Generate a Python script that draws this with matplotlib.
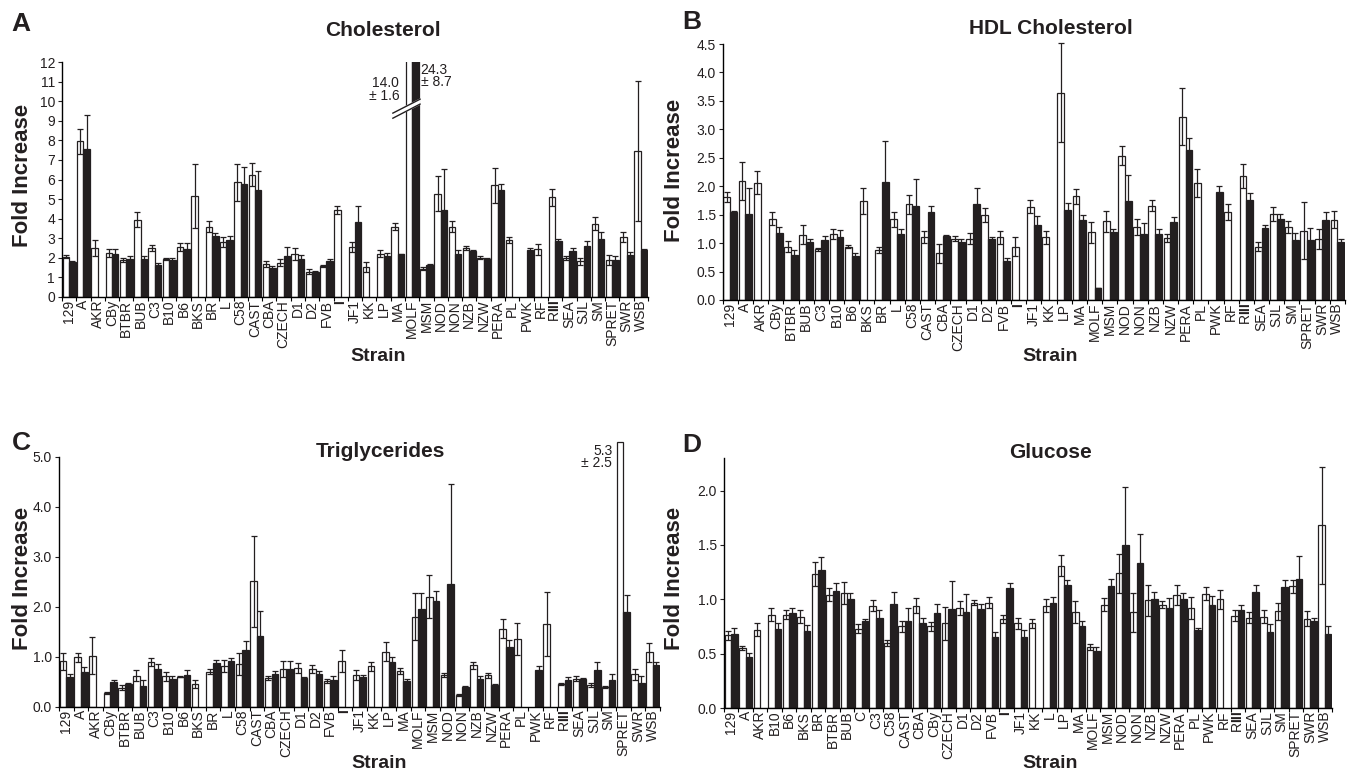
"""Fold increase of plasma lipids / glucose per mouse strain (4 panels)."""
import numpy as np
import matplotlib
matplotlib.use("Agg")
import matplotlib.pyplot as plt

plt.rcParams["font.family"] = ["Liberation Sans", "DejaVu Sans"]
plt.rcParams["mathtext.fontset"] = "custom"
plt.rcParams["mathtext.rm"] = "Liberation Sans"
plt.rcParams["mathtext.bf"] = "Liberation Sans:bold"

nan = np.nan

# strain order for panels A-C
strains_abc = ["129", "A", "AKR", "CBy", "BTBR", "BUB", "C3", "B10", "B6", "BKS",
               "BR", "L", "C58", "CAST", "CBA", "CZECH", "D1", "D2", "FVB", "I",
               "JF1", "KK", "LP", "MA", "MOLF", "MSM", "NOD", "NON", "NZB", "NZW",
               "PERA", "PL", "PWK", "RF", "RIII", "SEA", "SJL", "SM", "SPRET", "SWR",
               "WSB"]
# panel D has its own order (alphabetical, with C)
strains_d = ["129", "A", "AKR", "B10", "B6", "BKS", "BR", "BTBR", "BUB", "C",
             "C3", "C58", "CAST", "CBA", "CBy", "CZECH", "D1", "D2", "FVB", "I",
             "JF1", "KK", "L", "LP", "MA", "MOLF", "MSM", "NOD", "NON", "NZB",
             "NZW", "PERA", "PL", "PWK", "RF", "RIII", "SEA", "SJL", "SM", "SPRET",
             "SWR", "WSB"]

# A: cholesterol (open = white bars, solid = black bars)
chol_open = [2.05, 7.95, 2.5, 2.25, 1.9, 3.95, 2.5, 1.95, 2.55, 5.15,
             3.6, 2.8, 5.85, 6.25, 1.7, 1.75, 2.2, 1.3, 1.6, 4.45,
             2.55, 1.53, 2.21, 3.6, 14.0, 1.45, 5.28, 3.6, 2.52, 2.0,
             5.7, 2.9, nan, 2.43, 5.1, 2.0, 1.82, 3.74, 1.9, 3.06, 7.46]
chol_open_se = [0.08, 0.65, 0.42, 0.2, 0.1, 0.4, 0.13, 0.05, 0.22, 1.65,
                0.3, 0.25, 0.95, 0.6, 0.15, 0.17, 0.3, 0.13, 0.05, 0.2,
                0.25, 0.26, 0.17, 0.2, 1.6, 0.08, 0.9, 0.28, 0.1, 0.08,
                0.9, 0.16, nan, 0.29, 0.43, 0.1, 0.17, 0.34, 0.26, 0.26, 3.57]
chol_solid = [1.78, 7.54, nan, 2.2, 1.95, 1.95, 1.62, 1.9, 2.45, nan,
              3.1, 2.9, 5.75, 5.45, 1.5, 2.1, 1.95, 1.3, 1.85, nan,
              3.83, nan, 2.08, 2.18, 24.3, 1.65, 4.46, 2.18, 2.35, 1.92,
              5.45, nan, 2.42, nan, 2.86, 2.35, 2.59, 2.98, 1.9, 2.13, 2.42]
chol_solid_se = [0.05, 1.74, nan, 0.25, 0.15, 0.15, 0.1, 0.1, 0.3, nan,
                 0.15, 0.2, 0.9, 1.0, 0.1, 0.45, 0.2, 0.05, 0.1, nan,
                 0.82, nan, 0.17, 0.03, 8.7, 0.03, 2.06, 0.2, 0.05, 0.05,
                 0.34, nan, 0.08, nan, 0.08, 0.15, 0.25, 0.34, 0.19, 0.17, 0.03]

# B: HDL cholesterol
hdl_open = [1.81, 2.09, 2.06, 1.43, 0.94, 1.15, 0.89, 1.16, 0.94, 1.74,
            0.88, 1.42, 1.68, 1.11, 0.82, 1.08, 1.08, 1.49, 1.1, 0.94,
            1.64, 1.1, 3.64, 1.82, 1.19, 1.38, 2.54, 1.28, 1.66, 1.09,
            3.22, 2.06, nan, 1.55, 2.18, 0.94, 1.51, 1.28, 1.22, 1.07, 1.41]
hdl_open_se = [0.09, 0.33, 0.2, 0.12, 0.1, 0.16, 0.02, 0.09, 0.03, 0.22,
               0.06, 0.13, 0.17, 0.11, 0.17, 0.05, 0.1, 0.12, 0.11, 0.16,
               0.11, 0.12, 0.87, 0.13, 0.18, 0.18, 0.17, 0.14, 0.09, 0.07,
               0.5, 0.25, nan, 0.14, 0.21, 0.08, 0.12, 0.1, 0.5, 0.17, 0.15]
hdl_solid = [1.54, 1.52, nan, 1.18, 0.79, 1.02, 1.06, 1.11, 0.78, nan,
             2.07, 1.16, 1.66, 1.55, 1.12, 1.02, 1.68, 1.08, 0.69, nan,
             1.31, nan, 1.59, 1.4, 0.21, 1.19, 1.74, 1.16, 1.16, 1.37,
             2.63, nan, 1.89, nan, 1.75, 1.26, 1.43, 1.05, 1.05, 1.4, 1.02]
hdl_solid_se = [0.02, 0.44, nan, 0.1, 0.09, 0.05, 0.07, 0.12, 0.04, nan,
                0.72, 0.08, 0.46, 0.11, 0.02, 0.06, 0.29, 0.02, 0.05, nan,
                0.16, nan, 0.12, 0.09, 0.0, 0.06, 0.46, 0.19, 0.09, 0.09,
                0.22, nan, 0.11, nan, 0.13, 0.05, 0.09, 0.13, 0.22, 0.15, 0.06]

# C: triglycerides
tg_open = [0.91, 0.99, 1.02, 0.28, 0.38, 0.62, 0.9, 0.61, 0.6, 0.45,
           0.7, 0.81, 0.85, 2.51, 0.57, 0.75, 0.77, 0.75, 0.51, 0.91,
           0.63, 0.81, 1.1, 0.71, 1.8, 2.2, 0.63, 0.23, 0.83, 0.63,
           1.56, 1.36, nan, 1.66, 0.46, 0.56, 0.43, 0.39, 5.3, 0.65, 1.09]
tg_open_se = [0.17, 0.09, 0.37, 0.02, 0.05, 0.11, 0.08, 0.09, 0.01, 0.08,
              0.05, 0.12, 0.22, 0.91, 0.04, 0.16, 0.1, 0.08, 0.04, 0.22,
              0.1, 0.09, 0.19, 0.06, 0.47, 0.43, 0.04, 0.02, 0.07, 0.05,
              0.19, 0.32, nan, 0.64, 0.02, 0.05, 0.04, 0.02, nan, 0.11, 0.19]
tg_solid = [0.6, 0.7, nan, 0.49, 0.45, 0.41, 0.75, 0.56, 0.63, nan,
            0.88, 0.92, 1.13, 1.41, 0.65, 0.76, 0.57, 0.66, 0.53, nan,
            0.6, nan, 0.89, 0.52, 1.95, 2.11, 2.45, 0.4, 0.55, 0.43,
            1.19, nan, 0.73, nan, 0.53, 0.55, 0.73, 0.53, 1.9, 0.48, 0.83]
tg_solid_se = [0.05, 0.09, nan, 0.04, 0.03, 0.12, 0.1, 0.06, 0.1, nan,
               0.05, 0.05, 0.19, 0.5, 0.06, 0.15, 0.03, 0.05, 0.08, nan,
               0.03, nan, 0.1, 0.03, 0.33, 0.21, 2.0, 0.01, 0.07, 0.02,
               0.14, nan, 0.08, nan, 0.07, 0.02, 0.17, 0.12, 0.33, 0.13, 0.06]

# D: glucose
glu_open = [0.67, 0.55, 0.72, 0.86, 0.86, 0.84, 1.23, 1.04, 1.06, 0.73,
            0.94, 0.6, 0.75, 0.94, 0.75, 0.78, 0.92, 0.97, 0.97, 0.82,
            0.78, 0.78, 0.94, 1.31, 0.88, 0.56, 0.95, 1.24, 0.88, 0.99,
            0.95, 1.04, 0.92, 1.05, 1.0, 0.85, 0.83, 0.84, 0.89, 1.12, 0.82, 1.68]
glu_open_se = [0.04, 0.02, 0.06, 0.06, 0.04, 0.06, 0.11, 0.06, 0.1, 0.04,
               0.05, 0.03, 0.05, 0.07, 0.04, 0.15, 0.06, 0.02, 0.05, 0.04,
               0.05, 0.04, 0.06, 0.1, 0.1, 0.03, 0.06, 0.18, 0.18, 0.14,
               0.03, 0.09, 0.1, 0.06, 0.09, 0.05, 0.05, 0.06, 0.08, 0.06, 0.07, 0.54]
glu_solid = [0.68, 0.47, nan, 0.73, 0.87, 0.71, 1.27, 1.08, 1.0, 0.8,
             0.83, 0.96, 0.8, 0.78, 0.87, 0.91, 0.88, 0.91, 0.65, 1.1,
             0.65, nan, 0.97, 1.13, 0.75, 0.52, 1.12, 1.5, 1.33, 1.0,
             0.92, 1.0, 0.72, 0.95, nan, 0.9, 1.07, 0.7, 1.11, 1.19, 0.8, 0.68]
glu_solid_se = [0.06, 0.04, nan, 0.05, 0.05, 0.05, 0.12, 0.07, 0.06, 0.02,
                0.07, 0.11, 0.12, 0.05, 0.09, 0.26, 0.17, 0.05, 0.05, 0.05,
                0.07, nan, 0.05, 0.05, 0.05, 0.04, 0.07, 0.53, 0.27, 0.07,
                0.09, 0.06, 0.02, 0.08, nan, 0.05, 0.06, 0.07, 0.07, 0.21, 0.03, 0.07]

W, H = 1353, 776
DARK = "#231f20"


def px_axes(fig, left, right, y0, ytop):
    # axes box from pixel coordinates of the reference
    return fig.add_axes([left / W, 1 - y0 / H, (right - left) / W, (y0 - ytop) / H])


def fig_text(fig, x, y, s, **kw):
    fig.text(x / W, 1 - y / H, s, **kw)


def label_fmt(s):
    # roman numerals were set bold in the original
    if s == "I":
        return r"$\mathbf{I}$"
    if s == "RIII":
        return r"R$\mathbf{III}$"
    return s


def draw_panel(ax, strains, o, o_se, s, s_se, ylim, yticks, ylabels, spine_top):
    n = len(strains)
    x = np.arange(n)
    w = 0.45
    o, o_se, s, s_se = map(np.asarray, (o, o_se, s, s_se))
    mo = ~np.isnan(o)
    ms = ~np.isnan(s)
    ax.bar(x[mo] - w / 2, o[mo], w, color="white", edgecolor=DARK, lw=0.9, zorder=2)
    ax.bar(x[ms] + w / 2, s[ms], w, color=DARK, edgecolor=DARK, lw=0.9, zorder=2)
    eo = mo & ~np.isnan(o_se)
    es = ms & ~np.isnan(s_se)
    ax.errorbar(x[eo] - w / 2, o[eo], yerr=o_se[eo], fmt="none", ecolor=DARK,
                elinewidth=0.9, capsize=2.2, capthick=0.9, zorder=3)
    ax.errorbar(x[es] + w / 2, s[es], yerr=s_se[es], fmt="none", ecolor=DARK,
                elinewidth=0.9, capsize=2.2, capthick=0.9, zorder=3)
    ax.set_xlim(-0.5, n - 0.5)
    ax.set_ylim(*ylim)
    for side in ("top", "right"):
        ax.spines[side].set_visible(False)
    ax.spines["left"].set_bounds(0, spine_top)
    ax.spines["left"].set_linewidth(1.0)
    ax.spines["bottom"].set_linewidth(1.0)
    ax.set_yticks(yticks, ylabels)
    ax.tick_params(axis="y", length=3, width=0.8, labelsize=10, pad=2, colors=DARK)
    # tick marks between strains, labels centred under each strain
    ax.set_xticks(np.arange(n + 1) - 0.5, [""] * (n + 1))
    ax.tick_params(axis="x", which="major", length=3, width=0.8)
    ax.set_xticks(x, [label_fmt(t) for t in strains], minor=True)
    ax.tick_params(axis="x", which="minor", length=0, rotation=90, labelsize=10,
                   pad=2, colors=DARK)


fig = plt.figure(figsize=(W / 100, H / 100), dpi=100)

# A
axA = px_axes(fig, 62, 648, 297, 62)
draw_panel(axA, strains_abc, chol_open, chol_open_se, chol_solid, chol_solid_se,
           (0, 12), range(0, 13), [str(v) for v in range(0, 13)], 12)
# axis break on MOLF bars
i = strains_abc.index("MOLF")
bx = [i - 1.35, i + 0.55]
axA.fill([bx[0], bx[1], bx[1], bx[0]], [9.13, 9.85, 10.1, 9.39], color="white",
         zorder=4, clip_on=False)
axA.plot(bx, [9.13, 9.85], color=DARK, lw=1.0, zorder=5, clip_on=False)
axA.plot(bx, [9.39, 10.1], color=DARK, lw=1.0, zorder=5, clip_on=False)
axA.text(i - 0.9, 10.6, "14.0\n± 1.6", ha="right", va="center", fontsize=10,
         linespacing=0.85, color=DARK)
axA.text(i + 0.6, 11.3, "24.3\n± 8.7", ha="left", va="center", fontsize=10,
         linespacing=0.85, color=DARK)

# B
axB = px_axes(fig, 722.7, 1345, 300, 300 - 256 * 4.55 / 4.5)
yt = np.arange(0, 4.51, 0.5)
draw_panel(axB, strains_abc, hdl_open, hdl_open_se, hdl_solid, hdl_solid_se,
           (0, 4.55), yt, [f"{v:.1f}" for v in yt], 4.5)

# C
axC = px_axes(fig, 59, 660, 706.7, 706.7 - 5.35 * 50)
yt = np.arange(0, 5.01, 1.0)
draw_panel(axC, strains_abc, tg_open, tg_open_se, tg_solid, tg_solid_se,
           (0, 5.35), yt, [f"{v:.1f}" for v in yt], 5.0)
j = strains_abc.index("SPRET")
axC.text(j - 0.75, 5.0, "5.3\n± 2.5", ha="right", va="center", fontsize=10,
         linespacing=0.8, color=DARK)

# D
axD = px_axes(fig, 724, 1332, 708, 458)
yt = np.arange(0, 2.01, 0.5)
draw_panel(axD, strains_d, glu_open, glu_open_se, glu_solid, glu_solid_se,
           (0, 2.3), yt, [f"{v:.1f}" for v in yt], 2.3)

# titles, labels, panel letters
for (x, y, s) in [(383, 30, "Cholesterol"), (1051, 28, "HDL Cholesterol"),
                  (380, 451, "Triglycerides"), (1051, 452, "Glucose")]:
    fig_text(fig, x, y, s, ha="center", va="center", fontsize=15,
             fontweight="bold", color=DARK)
for (x, y) in [(378, 357), (1050, 357), (379, 763), (1050, 764)]:
    fig_text(fig, x, y, "Strain", ha="center", va="center", fontsize=14,
             fontweight="bold", color=DARK)
for (x, y) in [(22, 175), (675, 170), (22, 578), (675, 578)]:
    fig_text(fig, x, y, "Fold Increase", ha="center", va="center", fontsize=16,
             fontweight="bold", rotation=90, color=DARK)
for (x, y, s) in [(21, 24, "A"), (692, 22, "B"), (21, 443, "C"), (692, 445, "D")]:
    fig_text(fig, x, y, s, ha="center", va="center", fontsize=19,
             fontweight="bold", color=DARK)

fig.savefig("out.png", dpi=100)
